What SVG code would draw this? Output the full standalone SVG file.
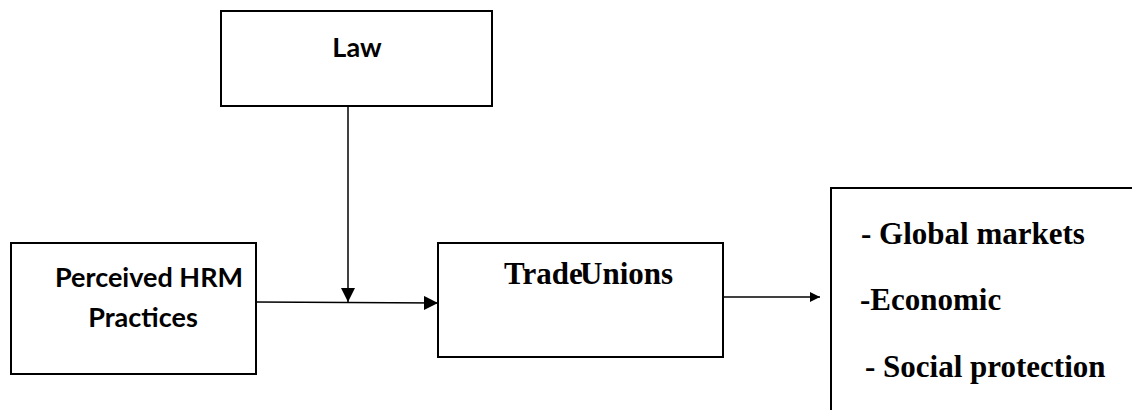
<svg xmlns="http://www.w3.org/2000/svg" width="1132" height="410" viewBox="0 0 1132 410">
  <style>
    .box { fill: #ffffff; stroke: #000000; stroke-width: 2; }
    .edge { fill: none; stroke: #000000; stroke-width: 1.5; }
    .sans { font-family: Lato, "Open Sans", "Liberation Sans", sans-serif; font-weight: bold; font-size: 27px; fill: #000000; }
    .serif { font-family: "Liberation Serif", "DejaVu Serif", serif; font-weight: bold; font-size: 31px; fill: #000000; }
  </style>
  <defs>
    <marker id="head" viewBox="0 0 10 10" refX="10" refY="5" markerWidth="10" markerHeight="10" markerUnits="userSpaceOnUse" orient="auto">
      <path d="M0,0 L10,5 L0,10 Z" fill="#000000"/>
    </marker>
    <marker id="head-big" viewBox="0 0 10 10" refX="10" refY="5" markerWidth="14" markerHeight="14" markerUnits="userSpaceOnUse" orient="auto">
      <path d="M0,0 L10,5 L0,10 Z" fill="#000000"/>
    </marker>
  </defs>
  <rect width="1132" height="410" fill="#ffffff"/>

  <g id="law">
    <rect class="box" x="221" y="11" width="271" height="95"/>
    <text class="sans" x="357" y="57" text-anchor="middle" font-size="29">Law</text>
  </g>

  <g id="hrm-practices">
    <rect class="box" x="11" y="243" width="245" height="131"/>
    <text class="sans" x="149" y="287" text-anchor="middle">Perceived HRM</text>
    <text class="sans" x="143" y="327" text-anchor="middle">Practices</text>
  </g>

  <g id="trade-unions">
    <rect class="box" x="438" y="243" width="285" height="114"/>
    <text class="serif" y="284"><tspan x="504">Trade</tspan><tspan x="580">Unions</tspan></text>
  </g>

  <g id="outcomes">
    <path class="box" d="M1134,188 H831 V412" fill="none"/>
    <text class="serif" x="861" y="244">- Global markets</text>
    <text class="serif" x="860" y="310">-Economic</text>
    <text class="serif" x="865" y="377">- Social protection</text>
  </g>

  <g id="connectors">
    <path class="edge" d="M348,106 V302" marker-end="url(#head-big)"/>
    <path class="edge" d="M256,302 L438,303" marker-end="url(#head-big)"/>
    <path class="edge" d="M723,297 H820" stroke-width="1.2" marker-end="url(#head)"/>
  </g>
</svg>
